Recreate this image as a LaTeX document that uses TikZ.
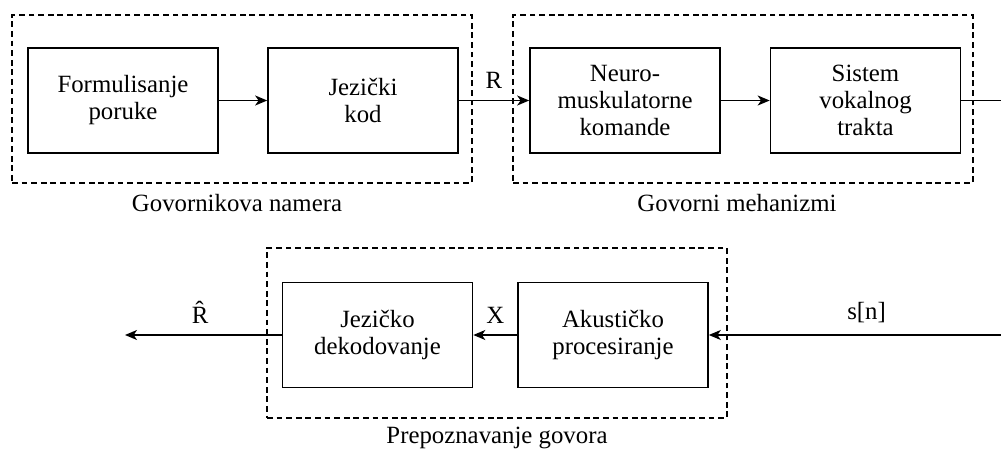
\documentclass[tikz,border=0pt]{standalone}
\usepackage{fontspec}
\setmainfont{Liberation Serif}
\usetikzlibrary{arrows.meta}
\begin{document}
\begin{tikzpicture}[x=0.75pt,y=-0.75pt,
  blk/.style={draw, line width=1.2pt, minimum width=142.5pt, minimum height=78.5pt, align=center, inner sep=0pt, font=\fontsize{18.6}{20.2}\selectfont},
  grp/.style={draw, line width=1.3pt, dash pattern=on 4.4pt off 2.8pt, inner sep=0pt},
  gcap/.style={font=\fontsize{18.6}{20.2}\selectfont},
  lbl/.style={font=\fontsize{18.6}{20.2}\selectfont, above=5pt},
  arr/.style={line width=1.1pt, -{Stealth[length=9pt,width=7.5pt,inset=2.5pt]}},
  ln/.style={line width=1.1pt}]
\useasboundingbox (0,0) rectangle (1001,450);
% groups
\node[grp, minimum width=345pt, minimum height=126pt] (g1) at (242,99) {};
\node[grp, minimum width=345pt, minimum height=126pt] (g2) at (743,99) {};
\node[grp, minimum width=345pt, minimum height=127.5pt] (g3) at (497,333) {};
\node[gcap] (t1) at (237,203) {Govornikova namera};
\node[gcap] (t2) at (737,203) {Govorni mehanizmi};
\node[gcap] (t3) at (497,438) {Prepoznavanje govora};
% blocks
\node[blk] (f1) at (123,100.5) {Formulisanje\\poruke};
\node[blk] (f2) at (363,100.5) {Jezički\\kod};
\node[blk] (f3) at (625,100.5) {Neuro-\\muskulatorne\\komande};
\node[blk] (f4) at (865.5,100.5) {Sistem\\vokalnog\\trakta};
\node[blk] (b1) at (377.5,335) {Jezičko\\dekodovanje};
\node[blk] (b2) at (613,335) {Akustičko\\procesiranje};
\coordinate (e1) at (1001,100.5);
\coordinate (s) at (1001,335);
\coordinate (rh) at (125,335);
% connectors
\draw[arr] (f1) -- (f2);
\draw[arr] (f2) -- node[lbl] {R} (f3);
\draw[arr] (f3) -- (f4);
\draw[ln] (f4) -- (e1);
\draw[arr] (s) -- node[lbl, pos=0.46] {s[n]} (b2);
\draw[arr] (b2) -- node[lbl] {X} (b1);
\draw[arr] (b1) -- node[lbl, pos=0.52] {\^{R}} (rh);
\end{tikzpicture}
\end{document}
